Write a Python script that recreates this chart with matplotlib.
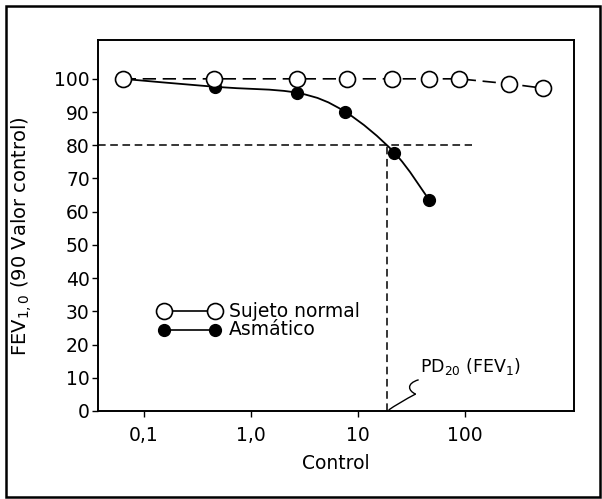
import numpy as np
import matplotlib.pyplot as plt
from matplotlib.path import Path
from matplotlib.patches import PathPatch, Rectangle

plt.rcParams['font.family'] = ['DejaVu Sans']
plt.rcParams['mathtext.fontset'] = 'dejavusans'

# dose (log scale) and FEV1 as % of control
normal_x = [0.063, 0.45, 2.7, 8.0, 21, 47, 89, 262, 538]
normal_y = [100, 100, 100, 100, 100, 100, 100, 98.5, 97.2]
asthma_x = [0.063, 0.46, 2.7, 7.6, 22, 47]
asthma_y = [100, 97.6, 95.8, 90.1, 77.8, 63.4]

pd20 = 19
xticks = [0.1, 1, 10, 100]
xticklabels = ['0,1', '1,0', '10', '100']
yticks = list(range(0, 101, 10))


def smooth_path(xs, ys):
    # Catmull-Rom through the points, done in log-x space
    lx = np.log10(xs)
    pts = np.column_stack([lx, ys])
    verts = [pts[0]]
    codes = [Path.MOVETO]
    n = len(pts)
    for i in range(n - 1):
        p0 = pts[max(i - 1, 0)]
        p1 = pts[i]
        p2 = pts[i + 1]
        p3 = pts[min(i + 2, n - 1)]
        c1 = p1 + (p2 - p0) / 6.0
        c2 = p2 - (p3 - p1) / 6.0
        verts += [c1, c2, p2]
        codes += [Path.CURVE4] * 3
    verts = np.array(verts)
    verts[:, 0] = 10 ** verts[:, 0]
    return Path(verts, codes)


fig = plt.figure(figsize=(6.02, 4.99), dpi=100)
# outer frame
fig.patches.append(Rectangle((0.010, 0.004), 0.987, 0.984, transform=fig.transFigure,
                             fill=False, lw=1.8, ec='black'))

ax = fig.add_axes([0.163, 0.1764, 0.791, 0.7435])
ax.set_xscale('log')
ax.set_xlim(0.0371, 1067)
ax.set_ylim(0, 111.7)

fs = 13.5
# reference lines for PD20
ax.plot([0.0371, 117], [80, 80], color='black', lw=1.1, dashes=(5, 3))
ax.plot([pd20, pd20], [0, 80], color='black', lw=1.1, dashes=(5, 3))

ax.add_patch(PathPatch(smooth_path(asthma_x, asthma_y), fill=False, lw=1.3,
                       ec='black', zorder=3))
ax.plot(asthma_x[1:], asthma_y[1:], ls='none', marker='o', ms=8.5,
        mfc='black', mec='black', zorder=3)
ax.plot(normal_x, normal_y, color='black', lw=1.2, dashes=(8, 4), marker='o', ms=11.5,
        mfc='white', mec='black', mew=1.2, zorder=4)

# legend drawn by hand
ax.plot([0.155, 0.458], [30, 30], color='black', lw=1.2, marker='o', ms=11.5,
        mfc='white', mec='black', mew=1.2)
ax.plot([0.155, 0.458], [24.4, 24.4], color='black', lw=1.2, marker='o', ms=8.5,
        mfc='black', mec='black')
ax.text(0.62, 30, 'Sujeto normal', fontsize=fs, va='center', ha='left')
ax.text(0.62, 24.4, 'Asmático', fontsize=fs, va='center', ha='left')

# PD20 label with squiggle
ax.text(38, 13.4, 'PD$_{20}$ (FEV$_1$)', fontsize=fs - 1, va='center', ha='left')
verts = [(37.2, 9.4), (28.0, 8.2), (30.0, 6.0), (34.8, 5.1),
         (28.0, 3.5), (22.0, 1.5), (19.5, 0.3)]
codes = [Path.MOVETO, Path.CURVE4, Path.CURVE4, Path.CURVE4,
         Path.CURVE4, Path.CURVE4, Path.CURVE4]
ax.add_patch(PathPatch(Path(verts, codes), fill=False, lw=1.0, ec='black'))

ax.set_xticks(xticks)
ax.set_xticklabels(xticklabels)
ax.xaxis.set_minor_locator(plt.NullLocator())
ax.set_yticks(yticks)
ax.tick_params(direction='out', length=4, width=1, labelsize=fs)
ax.tick_params(axis='x', pad=7)
ax.tick_params(axis='y', pad=2)
for s in ax.spines.values():
    s.set_linewidth(1.4)

ax.set_xlabel('Control', fontsize=fs, labelpad=6)
ax.set_ylabel('FEV$_\\mathrm{1,0}$ (90 Valor control)', fontsize=14)
ax.yaxis.set_label_coords(-0.135, 0.47)

fig.savefig('out.png', dpi=100)
